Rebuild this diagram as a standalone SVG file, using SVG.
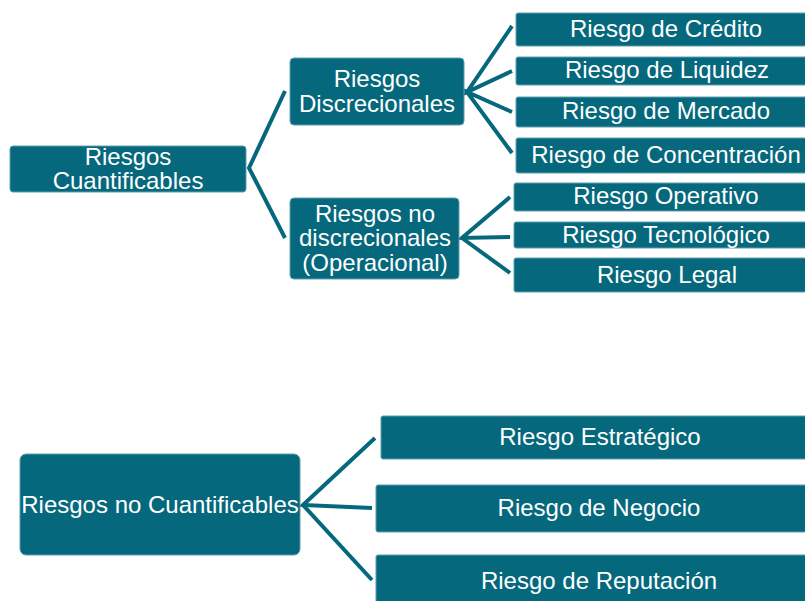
<svg xmlns="http://www.w3.org/2000/svg" width="805" height="601" viewBox="0 0 805 601">
<style>
.box{fill:#05687C;stroke:#5E9FAD;stroke-width:1}
.t{font-family:"Liberation Sans",Arial,sans-serif;font-size:24px;fill:#FFFFFF;text-anchor:middle}
.c{fill:none;stroke:#05687C;stroke-width:4;stroke-linejoin:miter}
</style>
<rect width="805" height="601" fill="#FFFFFF"/>
<g id="connectors">
<polyline class="c" points="285,91 249,168 285,238"/>
<polyline class="c" points="512,26 467,92 512,71"/>
<polyline class="c" points="512,112 467,92 512,153"/>
<polyline class="c" points="510,197 462,238 510,237"/>
<polyline class="c" points="462,238 510,273"/>
<polyline class="c" points="375,438 303,505 372,508"/>
<polyline class="c" points="303,505 372,580"/>
</g>
<g id="n-cuantificables">
<rect class="box" x="10" y="146" width="236" height="46" rx="3"/>
<text class="t" x="128" y="165">Riesgos</text>
<text class="t" x="128" y="189">Cuantificables</text>
</g>
<g id="n-discrecionales">
<rect class="box" x="290" y="58" width="174" height="67" rx="4"/>
<text class="t" x="377" y="87">Riesgos</text>
<text class="t" x="377" y="112">Discrecionales</text>
</g>
<g id="n-nodiscrecionales">
<rect class="box" x="290" y="198" width="169" height="81" rx="4"/>
<text class="t" x="375" y="222">Riesgos no</text>
<text class="t" x="375" y="246">discrecionales</text>
<text class="t" x="375" y="271">(Operacional)</text>
</g>
<g id="n-credito">
<rect class="box" x="516" y="13" width="300" height="33" rx="2"/>
<text class="t" x="666" y="37">Riesgo de Crédito</text>
</g>
<g id="n-liquidez">
<rect class="box" x="516" y="57" width="300" height="28" rx="2"/>
<text class="t" x="667" y="78">Riesgo de Liquidez</text>
</g>
<g id="n-mercado">
<rect class="box" x="516" y="97" width="300" height="30" rx="2"/>
<text class="t" x="666" y="119">Riesgo de Mercado</text>
</g>
<g id="n-concentracion">
<rect class="box" x="516" y="138" width="300" height="35" rx="2"/>
<text class="t" x="666" y="163">Riesgo de Concentración</text>
</g>
<g id="n-operativo">
<rect class="box" x="514" y="183" width="302" height="28" rx="2"/>
<text class="t" x="666" y="204">Riesgo Operativo</text>
</g>
<g id="n-tecnologico">
<rect class="box" x="514" y="222" width="302" height="26" rx="2"/>
<text class="t" x="666" y="243">Riesgo Tecnológico</text>
</g>
<g id="n-legal">
<rect class="box" x="514" y="258" width="302" height="34" rx="2"/>
<text class="t" x="667" y="283">Riesgo Legal</text>
</g>
<g id="n-nocuantificables">
<rect class="box" x="20" y="454" width="280" height="101" rx="6"/>
<text class="t" x="160" y="513">Riesgos no Cuantificables</text>
</g>
<g id="n-estrategico">
<rect class="box" x="381" y="416" width="440" height="43" rx="2"/>
<text class="t" x="600" y="445">Riesgo Estratégico</text>
</g>
<g id="n-negocio">
<rect class="box" x="376" y="485" width="445" height="47" rx="2"/>
<text class="t" x="599" y="516">Riesgo de Negocio</text>
</g>
<g id="n-reputacion">
<rect class="box" x="376" y="555" width="445" height="60" rx="2"/>
<text class="t" x="599" y="589">Riesgo de Reputación</text>
</g>
</svg>
